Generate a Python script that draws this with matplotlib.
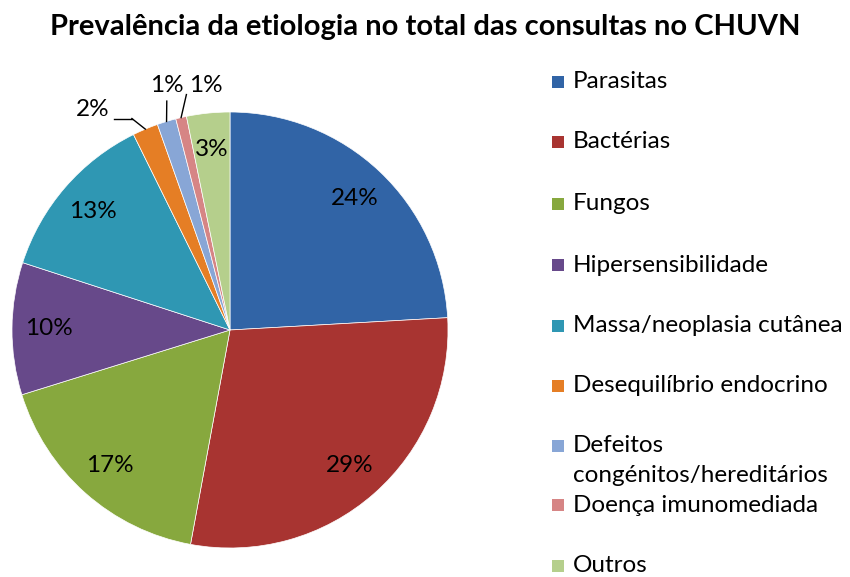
import numpy as np
import matplotlib.pyplot as plt
from matplotlib.patches import Rectangle

# shares (percent)
categories = ['Parasitas', 'Bactérias', 'Fungos', 'Hipersensibilidade',
              'Massa/neoplasia cutânea', 'Desequilíbrio endocrino',
              'Defeitos\ncongénitos/hereditários', 'Doença imunomediada', 'Outros']
values = [24.1, 28.8, 17.3, 9.8, 12.7, 1.9, 1.4, 0.8, 3.2]
colors = ['#3164A6', '#A83431', '#87A83E', '#67498A', '#2F97B3',
          '#E57E25', '#88A6D6', '#D68585', '#B5CF8C']
title = 'Prevalência da etiologia no total das consultas no CHUVN'

plt.rcParams['font.family'] = ['Lato', 'DejaVu Sans']

W, H = 850, 577
fig = plt.figure(figsize=(W / 100, H / 100), dpi=100)

# pie centre (230, 330) px, radius 218 px
cx, cy, r = 230, 330, 218
ax = fig.add_axes([(cx - r) / W, (H - cy - r) / H, 2 * r / W, 2 * r / H])

wedges, _ = ax.pie(values, colors=colors, startangle=90, counterclock=False,
                   radius=1.0, wedgeprops=dict(linewidth=0.5, edgecolor='white'))
ax.set_xlim(-1, 1)
ax.set_ylim(-1, 1)
ax.axis('off')

fs = 17.5
# label offsets for the tiny slices (text position, leader elbow)
outside = {5: ((-0.63, 0.97), (-0.45, 0.97)),
           6: ((-0.29, 1.075), (-0.29, 1.05)),
           7: ((-0.11, 1.075), (-0.2, 1.08))}

for i, (w, v) in enumerate(zip(wedges, values)):
    ang = np.deg2rad((w.theta1 + w.theta2) / 2)
    lab = f'{round(v):d}%'
    if i in outside:
        (tx, ty), (ex, ey) = outside[i]
        px, py = np.cos(ang), np.sin(ang)
        ax.plot([px, ex], [py, ey], color='black', lw=1, clip_on=False)
        if i == 5:
            ax.plot([ex, tx + 0.1], [ey, ey], color='black', lw=1, clip_on=False)
            ax.text(tx, ey + 0.01, lab, ha='center', va='baseline', fontsize=fs,
                    clip_on=False)
        else:
            ax.text(tx, ty, lab, ha='center', va='bottom', fontsize=fs, clip_on=False)
    else:
        d = 0.83
        ax.text(d * np.cos(ang), d * np.sin(ang), lab, ha='center', va='center',
                fontsize=fs)

fig.text(0.5, 1 - 27 / H, title, ha='center', va='center', fontsize=21,
         fontweight='bold')

# legend drawn by hand to mimic the spreadsheet layout
leg_y = [82, 142, 204, 265, 326, 386, 446, 505, 566]
for name, col, y in zip(categories, colors, leg_y):
    fig.patches.append(Rectangle((552 / W, 1 - (y + 6) / H), 12 / W, 12 / H,
                                 transform=fig.transFigure, facecolor=col,
                                 edgecolor='none'))
    for k, line in enumerate(name.split('\n')):
        fig.text(573 / W, 1 - (y + 30 * k) / H, line, ha='left', va='center',
                 fontsize=fs)

fig.savefig('out.png', dpi=100)
